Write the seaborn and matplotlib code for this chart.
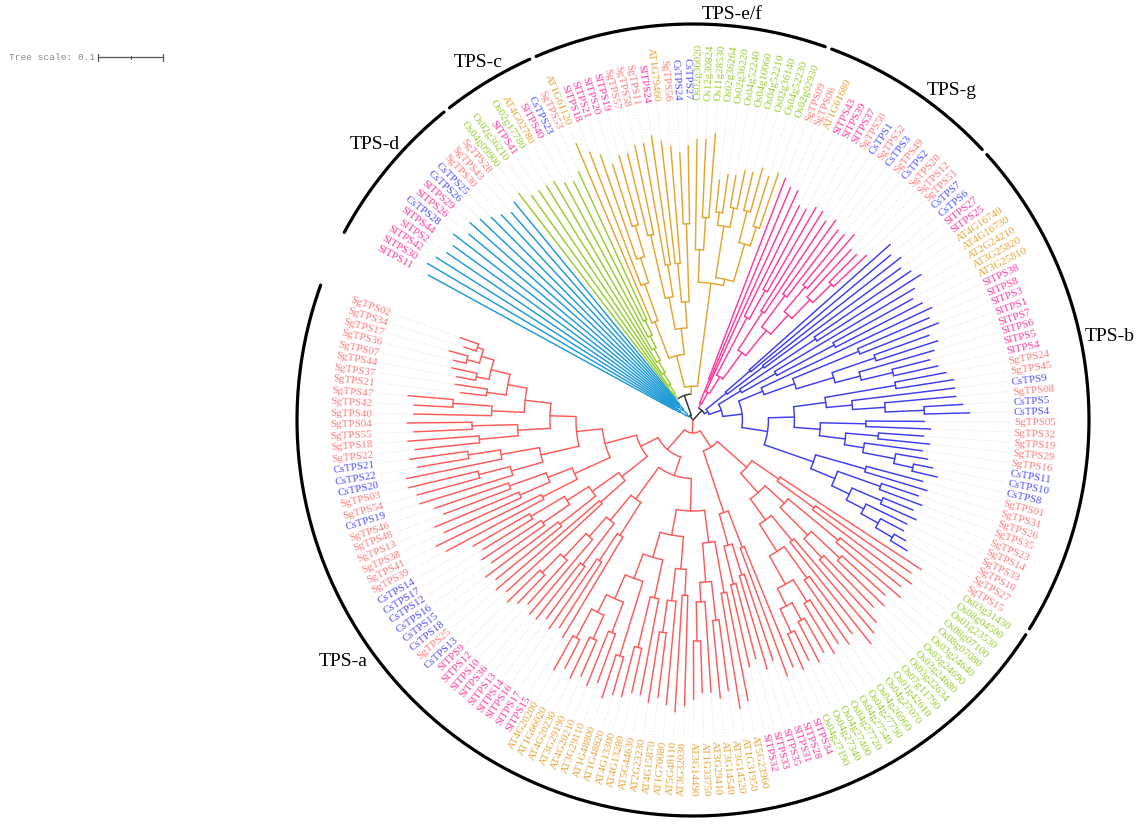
import re
import numpy as np
import pandas as pd
import matplotlib.pyplot as plt
import seaborn as sns

TPS_D = ("(((SlTPS11:0.43,SlTPS30:0.44):0.01,((SlTPS42:0.43,SlTPS2:0.42):0.008,(SlTPS44:0.42,CsTPS28:0.43):0.006):0.006):0.012,"
         "(((SlTPS26:0.41,SlTPS29:0.42):0.008,(CsTPS26:0.41,CsTPS25:0.4):0.01):0.008,(SgTPS30:0.4,(SgTPS43:0.38,SgTPS28:0.39):0.012):0.01):0.01)")

TPS_C = ("(Os04g09900:0.39,(Os02g36210:0.36,(SlTPS41:0.34,(Os02g17780:0.32,(AT4G02780:0.3,(SlTPS40:0.27,"
         "(CsTPS23:0.24,SgTPS53:0.25):0.025):0.02):0.02):0.02):0.02):0.015)")

EF_1 = "(AT1G61120:0.3,(SlTPS18:0.22,(SlTPS21:0.17,(SlTPS20:0.1,SlTPS19:0.11):0.05):0.04):0.06)"
EF_2 = "((SgTPS57:0.13,SgTPS58:0.14):0.1,(SgTPS11:0.19,SlTPS24:0.2):0.05)"
EF_3 = "((AT1G79460:0.19,SgTPS56:0.18):0.06,(CsTPS24:0.11,CsTPS27:0.12):0.12)"
EF_4 = ("((Os02g36020:0.17,(Os12g30824:0.12,Os11g28530:0.13):0.05):0.05,(((Os02g36264:0.05,Os02g36220:0.06):0.02,"
        "(Os04g52240:0.05,Os04g10060:0.06):0.03):0.08,((Os04g52210:0.06,Os02g36140:0.07):0.05,"
        "(Os04g52230:0.08,Os02g02930:0.09):0.03):0.06):0.01)")
TPS_EF = f"(({EF_1}:0.06,({EF_2}:0.05,{EF_3}:0.04):0.04):0.05,{EF_4}:0.16)"

TPS_G = ("((SgTPS09:0.33,SgTPS06:0.32):0.04,(AT1G61680:0.34,((SlTPS43:0.19,(SlTPS39:0.14,SlTPS37:0.15):0.05):0.1,"
         "((SgTPS50:0.18,CsTPS1:0.17):0.07,((SgTPS52:0.14,CsTPS3:0.13):0.06,((SgTPS49:0.1,CsTPS2:0.11):0.05,"
         "(SgTPS20:0.1,(SgTPS12:0.06,SgTPS51:0.07):0.04):0.04):0.04):0.05):0.05):0.03):0.02)")

B_1 = "((CsTPS7:0.29,CsTPS6:0.28):0.05,(SlTPS27:0.27,SlTPS25:0.26):0.07)"
B_2 = "((AT4G16740:0.18,AT4G16730:0.19):0.14,(AT2G24210:0.25,(AT3G25820:0.14,AT3G25810:0.15):0.1):0.06)"
B_3 = ("(SlTPS38:0.29,((SlTPS8:0.12,SlTPS3:0.13):0.11,((SlTPS1:0.09,SlTPS7:0.1):0.07,"
       "(SlTPS6:0.12,(SlTPS5:0.06,SlTPS4:0.07):0.05):0.04):0.06):0.05)")
B_4 = "((SgTPS24:0.08,SgTPS45:0.09):0.11,(CsTPS9:0.16,(SgTPS08:0.11,(CsTPS5:0.06,CsTPS4:0.07):0.06):0.05):0.04)"
B_5 = ("((SgTPS05:0.09,SgTPS32:0.1):0.07,((SgTPS19:0.07,SgTPS29:0.08):0.05,(SgTPS16:0.09,"
       "(CsTPS11:0.05,(CsTPS10:0.03,CsTPS8:0.04):0.03):0.05):0.03):0.04)")
B_6 = ("((SgTPS01:0.09,SgTPS31:0.1):0.08,((SgTPS26:0.06,SgTPS35:0.07):0.07,((SgTPS23:0.05,SgTPS14:0.06):0.05,"
       "(SgTPS33:0.07,(SgTPS10:0.04,(SgTPS27:0.02,SgTPS15:0.03):0.03):0.03):0.03):0.03):0.04)")
TPS_B = f"({B_1}:0.04,({B_2}:0.04,({B_3}:0.04,(({B_4}:0.05,{B_5}:0.04):0.04,{B_6}:0.08):0.04):0.03):0.02)"

A_OS = ("((Os03g31430:0.26,(Os08g04500:0.18,Os01g23530:0.19):0.07):0.05,(((Os08g07100:0.12,Os08g07080:0.13):0.1,"
        "((Os03g24640:0.09,Os03g24690:0.1):0.06,(Os03g24680:0.11,Os03g22634:0.13):0.04):0.06):0.04,"
        "((Os07g11790:0.19,Os01g42610:0.2):0.05,((Os04g27070:0.11,Os04g26960:0.12):0.06,((Os04g27790:0.08,"
        "Os04g27540:0.09):0.04,((Os04g27720:0.06,Os04g27400:0.07):0.03,(Os04g27340:0.05,Os04g27190:0.06):0.04)"
        ":0.03):0.05):0.05):0.04):0.04)")
A_SL1 = "((SlTPS34:0.2,SlTPS28:0.21):0.06,((SlTPS31:0.14,SlTPS35:0.15):0.05,(SlTPS33:0.12,SlTPS32:0.13):0.06):0.05)"
A_AT = ("(((AT5G23960:0.17,AT1G31950:0.18):0.08,((AT3G14520:0.11,AT3G14540:0.12):0.06,(AT3G29410:0.14,"
        "(AT1G33750:0.08,AT3G14490:0.09):0.06):0.03):0.06):0.05,(((AT3G32030:0.17,AT5G48110:0.18):0.04,"
        "(AT1G70080:0.16,(AT4G15870:0.1,AT2G23230:0.11):0.05):0.05):0.05,((AT5G44630:0.15,(AT4G13280:0.07,"
        "AT4G13300:0.08):0.08):0.06,((AT1G48820:0.06,AT1G48800:0.07):0.12,((AT3G29110:0.08,AT4G20210:0.09):0.05,"
        "((AT3G29190:0.06,AT4G20230:0.07):0.04,(AT1G66020:0.05,AT4G20200:0.06):0.05):0.03):0.04):0.04):0.04):0.04)")
A_SL2 = ("((SlTPS15:0.18,(SlTPS17:0.12,SlTPS16:0.13):0.05):0.06,((SlTPS14:0.1,SlTPS13:0.11):0.08,"
         "(SlTPS36:0.15,(SlTPS10:0.09,(SlTPS12:0.06,SlTPS9:0.07):0.04):0.05):0.04):0.05)")
A_CS = ("((CsTPS13:0.2,SgTPS25:0.21):0.05,((CsTPS18:0.13,CsTPS15:0.14):0.07,((CsTPS16:0.1,CsTPS12:0.11):0.05,"
        "(CsTPS17:0.09,CsTPS14:0.1):0.06):0.04):0.05)")
A_SG = ("(((SgTPS39:0.17,SgTPS41:0.18):0.06,((SgTPS38:0.13,SgTPS13:0.14):0.05,(SgTPS48:0.11,SgTPS46:0.12):0.06):0.04):0.06,"
        "(((CsTPS19:0.15,(SgTPS54:0.1,SgTPS03:0.11):0.05):0.05,(CsTPS20:0.15,(CsTPS22:0.08,CsTPS21:0.09):0.05):0.06):0.06,"
        "(((SgTPS22:0.1,SgTPS18:0.11):0.06,(SgTPS55:0.09,SgTPS04:0.1):0.07):0.05,((SgTPS40:0.12,(SgTPS42:0.06,"
        "SgTPS47:0.07):0.06):0.05,((SgTPS21:0.04,SgTPS37:0.05):0.03,((SgTPS44:0.03,SgTPS07:0.04):0.02,"
        "((SgTPS36:0.02,SgTPS17:0.03):0.02,(SgTPS34:0.02,SgTPS02:0.03):0.01):0.02):0.03):0.03):0.04):0.04):0.04):0.05)")
TPS_A = f"(({A_OS}:0.06,{A_SL1}:0.1):0.03,(({A_AT}:0.05,{A_SL2}:0.06):0.03,({A_CS}:0.05,{A_SG}:0.03):0.04):0.02)"

clades = {'TPS-d': TPS_D, 'TPS-c': TPS_C, 'TPS-e/f': TPS_EF, 'TPS-g': TPS_G, 'TPS-b': TPS_B, 'TPS-a': TPS_A}
NEWICK = (f"(({TPS_D}:0.004,({TPS_C}:0.01,{TPS_EF}:0.012):0.032):0.008,"
          f"({TPS_G}:0.008,{TPS_B}:0.006):0.02,{TPS_A}:0.015);")

branch_colors = {'TPS-d': '#1e9ad6', 'TPS-c': '#99cc33', 'TPS-e/f': '#e5a52e',
                 'TPS-g': '#ff3a9d', 'TPS-b': '#3c3cf0', 'TPS-a': '#ff5a5a'}
species_colors = {'Sg': '#ff7b7b', 'Sl': '#ff3aa0', 'Cs': '#5050ff', 'AT': '#e4a53a', 'Os': '#99cc33'}
# clade label placement (angle deg, radius px)
clade_label_pos = {'TPS-d': (139, 422), 'TPS-c': (121, 418), 'TPS-e/f': (84.5, 408),
                   'TPS-g': (52, 420), 'TPS-b': (11.5, 425), 'TPS-a': (-145.5, 425)}

# --- layout ---
cx, cy = 693, 421
px_per_unit = 650.0
r_label = 321
r_range = 396
start_angle = 151.3
open_gap = 9.2


def parse(s):
    pos = 0

    def node():
        nonlocal pos
        kids = []
        if s[pos] == '(':
            pos += 1
            while True:
                kids.append(node())
                if s[pos] == ',':
                    pos += 1
                    continue
                pos += 1
                break
        m = re.match(r'([^:,();]*)(?::([0-9.]+))?', s[pos:])
        pos += m.end()
        return {'name': m.group(1), 'len': float(m.group(2) or 0), 'kids': kids}
    return node()


leaf_clade = {}
for cname, nw in clades.items():
    for lf in re.findall(r'[A-Za-z][A-Za-z0-9]+(?=:)', nw):
        leaf_clade[lf] = cname

tree = parse(NEWICK)
leaves = []


def collect(n):
    if not n['kids']:
        leaves.append(n['name'])
    for k in n['kids']:
        collect(k)


collect(tree)
n_leaf = len(leaves)
step = (360.0 - open_gap) / (n_leaf - 1)
leaf_angle = {lf: start_angle - i * step for i, lf in enumerate(leaves)}


def layout(n, depth):
    n['depth'] = depth + n['len']
    if not n['kids']:
        n['angle'] = leaf_angle[n['name']]
        n['clades'] = {leaf_clade[n['name']]}
    else:
        for k in n['kids']:
            layout(k, n['depth'])
        n['angle'] = (n['kids'][0]['angle'] + n['kids'][-1]['angle']) / 2
        n['clades'] = set().union(*[k['clades'] for k in n['kids']])


tree['len'] = 0.0
layout(tree, 0.0)


def pol(r, a):
    t = np.deg2rad(a)
    return cx + r * np.cos(t), cy - r * np.sin(t)


rows = []
tips = []
seg = [0]


def add(xs, ys, col):
    for i, (x, y) in enumerate(zip(xs, ys)):
        rows.append({'seg': seg[0], 'i': i, 'x': x, 'y': y, 'col': col})
    seg[0] += 1


def draw(n, parent_depth):
    col = branch_colors[next(iter(n['clades']))] if len(n['clades']) == 1 else '#333333'
    r0, r1 = parent_depth * px_per_unit, n['depth'] * px_per_unit
    if r1 > r0:
        x0, y0 = pol(r0, n['angle'])
        x1, y1 = pol(r1, n['angle'])
        add([x0, x1], [y0, y1], col)
    if n['kids']:
        a1, a2 = n['kids'][0]['angle'], n['kids'][-1]['angle']
        aa = np.linspace(a1, a2, max(2, int(abs(a2 - a1) / 0.4) + 2))
        xs, ys = pol(r1, aa)
        add(xs, ys, col)
        for k in n['kids']:
            draw(k, n['depth'])
    else:
        tips.append((n['name'], r1, n['angle']))


draw(tree, 0.0)
branches = pd.DataFrame(rows)

sns.set_theme(style='white')
plt.rcParams['font.family'] = ['Liberation Serif', 'DejaVu Serif']

fig = plt.figure(figsize=(11.46, 8.28), dpi=100)
ax = fig.add_axes([0, 0, 1, 1])
ax.set_xlim(0, 1146)
ax.set_ylim(828, 0)
ax.axis('off')

# dotted guides from tips to labels
dots = []
for k, (name, r, a) in enumerate(tips):
    x0, y0 = pol(r + 2, a)
    x1, y1 = pol(r_label - 3, a)
    dots += [{'seg': k, 'x': x0, 'y': y0}, {'seg': k, 'x': x1, 'y': y1}]
dots = pd.DataFrame(dots)
sns.lineplot(data=dots, x='x', y='y', units='seg', estimator=None, sort=False,
             color='#d4d4d4', lw=0.6, linestyle=(0, (1, 2.5)), ax=ax, legend=False)

pal = {c: c for c in branches['col'].unique()}
sns.lineplot(data=branches, x='x', y='y', units='seg', estimator=None, sort=False,
             hue='col', palette=pal, lw=1.05, ax=ax, legend=False)

# leaf labels
for name, r, a in tips:
    x, y = pol(r_label, a)
    right = np.cos(np.deg2rad(a)) >= -1e-6
    ax.text(x, y, name, rotation=a if right else a + 180, rotation_mode='anchor',
            ha='left' if right else 'right', va='center', fontsize=7.9,
            color=species_colors[name[:2]])

# clade range arcs
arcs = []
for k, cname in enumerate(clades):
    members = [lf for lf in leaves if leaf_clade[lf] == cname]
    a1 = leaf_angle[members[0]] + step / 2 - 0.5
    a2 = leaf_angle[members[-1]] - step / 2 + 0.5
    aa = np.linspace(a1, a2, 200)
    xs, ys = pol(r_range, aa)
    arcs += [{'seg': k, 'x': x, 'y': y} for x, y in zip(xs, ys)]
    la, lr = clade_label_pos[cname]
    tx, ty = pol(lr, la)
    ax.text(tx, ty, cname, fontsize=14, ha='center', va='center', color='black')
arcs = pd.DataFrame(arcs)
sns.lineplot(data=arcs, x='x', y='y', units='seg', estimator=None, sort=False,
             color='black', lw=2.3, ax=ax, legend=False)

# tree scale
tree_scale = 0.1
bx0, by = 98, 58
bx1 = bx0 + tree_scale * px_per_unit
ax.plot([bx0, bx1], [by, by], color='#555555', lw=0.9)
for xt, h in [(bx0, 3.5), ((bx0 + bx1) / 2, 1.5), (bx1, 3.5)]:
    ax.plot([xt, xt], [by - h, by + h], color='#555555', lw=0.9)
ax.text(bx0 - 3, by, f'Tree scale: {tree_scale}', ha='right', va='center', fontsize=6.8,
        color='#8a8a8a', family=['Liberation Mono', 'DejaVu Sans Mono'])

fig.savefig('out.png', dpi=100)
